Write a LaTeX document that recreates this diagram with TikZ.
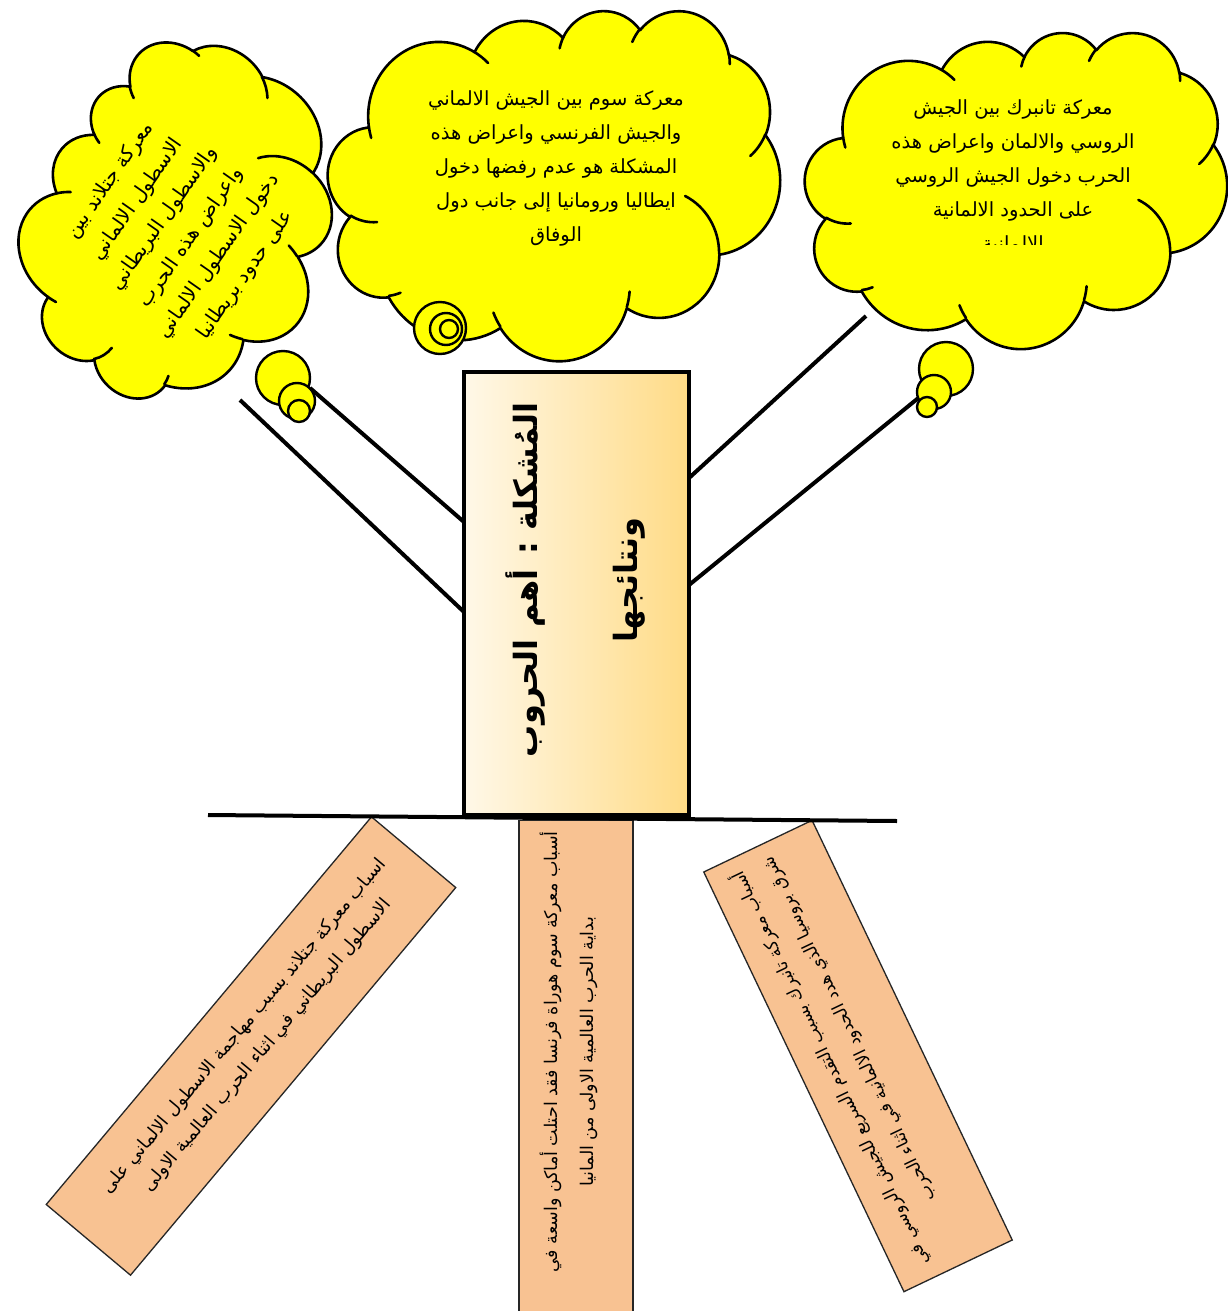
\documentclass[tikz,border=0pt]{standalone}
\usepackage{fontspec}
\newfontfamily\arabicfont[Script=Arabic]{DejaVu Sans}
\TeXXeTstate=1
\definecolor{cloudyellow}{HTML}{FFFF00}
\definecolor{peach}{HTML}{F8C292}
\definecolor{trunkL}{HTML}{FFF8E8}
\definecolor{trunkR}{HTML}{FFDB86}
% visual OOXML angles -> parametric angles
\newcommand\ooang[5]{%
  \pgfmathsetmacro\ooa{#4}%
  \pgfmathsetmacro\oob{#4+#5}%
  \pgfmathsetmacro\ota{atan2((#2)*sin(\ooa),(#3)*cos(\ooa))}%
  \pgfmathsetmacro\ota{\ota+360*round((\ooa-\ota)/360)}%
  \pgfmathsetmacro\otb{atan2((#2)*sin(\oob),(#3)*cos(\oob))}%
  \pgfmathsetmacro\otb{\otb+360*round((\oob-\otb)/360)}%
  \expandafter\xdef\csname oo#1s\endcsname{\ota}%
  \expandafter\xdef\csname oo#1e\endcsname{\otb}%
}
\ooang{A}{67.53}{91.90}{-190.4875}{123.7805}
\ooang{B}{53.33}{72.67}{-144.1024}{89.9452}
\ooang{C}{43.65}{59.45}{-145.8079}{99.7230}
\ooang{D}{48.57}{65.95}{-130.9861}{117.2417}
\ooang{E}{53.33}{72.73}{-78.7089}{109.0269}
\ooang{F}{67.75}{92.20}{-46.2673}{130.2690}
\ooang{G}{57.85}{78.67}{0.6250}{114.0333}
\ooang{H}{67.52}{92.15}{22.4516}{115.1726}
\ooang{I}{77.20}{105.43}{66.2426}{75.7110}
\ooang{J}{43.60}{59.18}{-274.9421}{146.7356}
\ooang{K}{43.45}{59.45}{-246.8285}{152.5189}
\ooang{a}{43.45}{59.45}{86.7420}{26.4295}
\ooang{b}{43.60}{59.18}{73.6105}{11.4475}
\ooang{c}{67.52}{92.15}{137.6242}{14.0811}
\ooang{d}{67.52}{92.15}{6.4533}{15.9984}
\ooang{e}{57.85}{78.67}{-70.2924}{70.9174}
\ooang{f}{53.33}{72.73}{30.3180}{27.7515}
\ooang{g}{48.57}{65.95}{-13.7443}{14.8589}
\ooang{h}{48.57}{65.95}{-149.1815}{18.1954}
\ooang{i}{43.65}{59.45}{-163.4943}{17.6864}
\ooang{j}{67.53}{91.90}{-66.7070}{12.3194}
\ooang{k}{67.53}{91.90}{157.6544}{11.8582}
\newcommand\cloudoutline{(39.00,143.70)
 arc[x radius=67.53,y radius=91.90,start angle=\ooAs,end angle=\ooAe]
 arc[x radius=53.33,y radius=72.67,start angle=\ooBs,end angle=\ooBe]
 arc[x radius=43.65,y radius=59.45,start angle=\ooCs,end angle=\ooCe]
 arc[x radius=48.57,y radius=65.95,start angle=\ooDs,end angle=\ooDe]
 arc[x radius=53.33,y radius=72.73,start angle=\ooEs,end angle=\ooEe]
 arc[x radius=67.75,y radius=92.20,start angle=\ooFs,end angle=\ooFe]
 arc[x radius=57.85,y radius=78.67,start angle=\ooGs,end angle=\ooGe]
 arc[x radius=67.52,y radius=92.15,start angle=\ooHs,end angle=\ooHe]
 arc[x radius=77.20,y radius=105.43,start angle=\ooIs,end angle=\ooIe]
 arc[x radius=43.60,y radius=59.18,start angle=\ooJs,end angle=\ooJe]
 arc[x radius=43.45,y radius=59.45,start angle=\ooKs,end angle=\ooKe]
 -- cycle}
\newcommand\cloudinner{(46.93,261.77)
 arc[x radius=43.45,y radius=59.45,start angle=\ooas,end angle=\ooae]
 (69.28,348.99) arc[x radius=43.60,y radius=59.18,start angle=\oobs,end angle=\oobe]
 (164.78,390.90) arc[x radius=67.52,y radius=92.15,start angle=\oocs,end angle=\ooce]
 (288.27,347.51) arc[x radius=67.52,y radius=92.15,start angle=\oods,end angle=\oode]
 (341.29,229.54) arc[x radius=57.85,y radius=78.67,start angle=\ooes,end angle=\ooee]
 (417.98,153.54) arc[x radius=53.33,y radius=72.73,start angle=\oofs,end angle=\oofe]
 (383.24,54.26) arc[x radius=48.57,y radius=65.95,start angle=\oogs,end angle=\ooge]
 (290.78,39.52) arc[x radius=48.57,y radius=65.95,start angle=\oohs,end angle=\oohe]
 (221.41,47.20) arc[x radius=43.65,y radius=59.45,start angle=\oois,end angle=\ooie]
 (140.00,51.92) arc[x radius=67.53,y radius=91.90,start angle=\oojs,end angle=\ooje]
 (41.27,157.89) arc[x radius=67.53,y radius=91.90,start angle=\ooks,end angle=\ooke]}
\newcommand\wordcloud[5]{%
  \begin{scope}[shift={(#1,#2)},x=1pt,y=1pt,rotate=#5,xscale=#3/432,yscale=-#4/432,shift={(-216,-216)}]
    \path[cloudshape] \cloudoutline;
    \draw[cloudline] \cloudinner;
  \end{scope}}
\begin{document}
\begin{tikzpicture}[x=1pt,y=-1pt,
  cloudshape/.style={fill=cloudyellow,draw=black,line width=2.6pt,line join=round},
  cloudline/.style={draw=black,line width=2.6pt,line cap=round},
  bubble/.style={fill=cloudyellow,draw=black,line width=2.4pt},
  branch/.style={draw=black,line width=4pt},
  ground/.style={draw=black,line width=4pt},
  trunkbox/.style={draw=black,line width=4pt,left color=trunkL,right color=trunkR,inner sep=0pt},
  rootbox/.style={draw=black!85,line width=1.3pt,fill=peach,inner sep=0pt},
  cloudtext/.style={font=\arabicfont\fontsize{19.5}{34}\selectfont,align=center,inner sep=0pt},
  roottext/.style={font=\arabicfont\fontsize{18}{30}\selectfont,align=center,inner sep=0pt},
  trunktext/.style={font=\arabicfont\bfseries\fontsize{32}{100}\selectfont,align=center,inner sep=0pt}]
\fill[white] (0,0) rectangle (1227,1311);
\useasboundingbox (0,0) rectangle (1227,1311);
% connectors (branches)
\coordinate (bl1) at (240,400);
\coordinate (bl2) at (310,388);
\coordinate (tl1) at (464,612);
\coordinate (tl2) at (464,522);
\coordinate (br1) at (866,316);
\coordinate (br2) at (922,395);
\coordinate (tr1) at (689,478);
\coordinate (tr2) at (689,585);
\draw[branch] (bl1) -- (tl1);
\draw[branch] (bl2) -- (tl2);
\draw[branch] (br1) -- (tr1);
\draw[branch] (br2) -- (tr2);
% clouds
\wordcloud{182}{226}{350}{300}{47}
\wordcloud{554}{185}{452}{350}{0}
\wordcloud{1016}{190}{422}{316}{0}
% thought bubbles
\draw[bubble] (283,378) circle[radius=27pt];
\draw[bubble] (297,401) circle[radius=18pt];
\draw[bubble] (299,411) circle[radius=11pt];
\draw[bubble] (440,328) circle[radius=26pt];
\draw[bubble] (446,329) circle[radius=16pt];
\draw[bubble] (449,329) circle[radius=9pt];
\draw[bubble] (946,369) circle[radius=27pt];
\draw[bubble] (934,392) circle[radius=17pt];
\draw[bubble] (927,407) circle[radius=10pt];
% roots
\node[rootbox,rotate=50,minimum width=506pt,minimum height=110pt] (rootL) at (251,1046) {};
\node[rootbox,anchor=north,minimum width=114pt,minimum height=500pt] (rootM) at (576,820) {};
\node[rootbox,rotate=115.5,minimum width=465pt,minimum height=120pt] (rootR) at (858,1056) {};
% ground
\coordinate (g1) at (208,815);
\coordinate (g2) at (897,821);
\draw[ground] (g1) -- (g2);
% trunk
\node[trunkbox,minimum width=225pt,minimum height=443pt] (trunk) at (576.5,593.5) {};
% texts
\node[cloudtext,rotate=55,font=\arabicfont\fontsize{20}{33}\selectfont] (txtL) at (178,228) {%
\beginR معركة جتلاند بين\endR\\
\beginR الاسطول الالماني\endR\\
\beginR والاسطول البريطاني\endR\\
\beginR واعراض هذه الحرب\endR\\
\beginR دخول الاسطول الالماني\endR\\
\beginR على حدود بريطانيا\endR};
\node[cloudtext] (txtM) at (556,168) {%
\beginR معركة سوم بين الجيش الالماني\endR\\
\beginR والجيش الفرنسي واعراض هذه\endR\\
\beginR المشكلة هو عدم رفضها دخول\endR\\
\beginR ايطاليا ورومانيا إلى جانب دول\endR\\
\beginR الوفاق\endR};
\begin{scope}
\clip (850,60) rectangle (1180,244);
\node[cloudtext] (txtR) at (1013,177) {%
\beginR معركة تانبرك بين الجيش\endR\\
\beginR الروسي والالمان واعراض هذه\endR\\
\beginR الحرب دخول الجيش الروسي\endR\\
\beginR على الحدود الالمانية\endR\\
\beginR الالمانية\endR};
\end{scope}
\node[trunktext,rotate=90] (txtT) at (576,580) {%
\beginR المُشكلة : أهم الحروب\endR\\
\beginR ونتائجها\endR};
\node[roottext,rotate=50] (txtRL) at (256,1036) {%
\beginR اسباب معركة جتلاند بسبب مهاجمة الاسطول الالماني على\endR\\
\beginR الاسطول البريطاني في اثناء الحرب العالمية الاولى\endR};
\node[roottext,rotate=90,font=\arabicfont\fontsize{17.5}{36}\selectfont] (txtRM) at (569,1052) {%
\beginR أسباب معركة سوم هوراة فرنسا فقد احتلت أماكن واسعة في\endR\\
\beginR بداية الحرب العالمية الاولى من المانيا\endR};
\node[roottext,rotate=115.5,align=right,font=\arabicfont\fontsize{17}{33}\selectfont] (txtRR) at (845,1062) {%
\beginR أسباب معركة تانبرك بسبب التقدم السريع للجيش الروسي في\endR\\
\beginR شرق بروسيا الذي هدد الحدود الالمانية في اثناء الحرب\endR};
\end{tikzpicture}
\end{document}
